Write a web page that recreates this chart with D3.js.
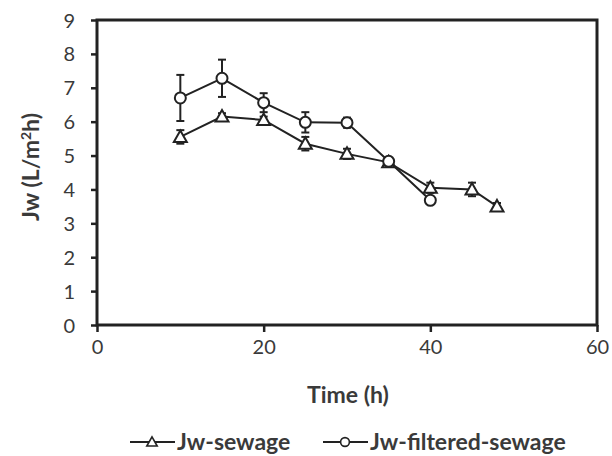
<!DOCTYPE html>
<html><head><meta charset="utf-8">
<script src="https://cdn.jsdelivr.net/npm/d3@7"></script>
<style>body{margin:0;background:#fff}svg{display:block}</style>
</head><body>
<svg id="c" width="612" height="456"></svg>
<script>
const timeSewage = [10, 15, 20, 25, 30, 35, 40, 45, 48];
const jwSewage = [5.55, 6.15, 6.05, 5.35, 5.05, 4.8, 4.05, 4.0, 3.5];
const errSewage = [0.2, 0.1, 0.1, 0.2, 0.15, 0.1, 0.15, 0.2, 0.1];
const timeFiltered = [10, 15, 20, 25, 30, 35, 40];
const jwFiltered = [6.7, 7.28, 6.56, 5.98, 5.97, 4.83, 3.68];
const errFiltered = [0.68, 0.55, 0.28, 0.3, 0.15, 0.1, 0.1];
const xTicks = [0, 20, 40, 60];
const yTicks = [0, 1, 2, 3, 4, 5, 6, 7, 8, 9];
const seriesNames = ["Jw-sewage", "Jw-filtered-sewage"];

const svg = d3.select("#c");
const x = d3.scaleLinear().domain([0, 60]).range([97, 597]);
const y = d3.scaleLinear().domain([0, 9]).range([325, 20]);
const ink = "#222";
const txt = "#3a3a3a";
const font = "Lato, 'Open Sans', sans-serif";

// frame
svg.append("rect").attr("x", x(0)).attr("y", y(9)).attr("width", x(60) - x(0)).attr("height", y(0) - y(9))
  .attr("fill", "none").attr("stroke", ink).attr("stroke-width", 3);

// y axis
const ya = svg.append("g").attr("transform", `translate(${x(0)},0)`)
  .call(d3.axisLeft(y).tickValues(yTicks).tickSize(6).tickPadding(16).tickFormat(d3.format("d")));
ya.select(".domain").remove();
ya.selectAll("line").attr("stroke", ink).attr("stroke-width", 2.5);
ya.selectAll("text").attr("font-family", font).attr("font-size", 20).attr("fill", txt).attr("dy", "0.35em");

// x axis
const xa = svg.append("g").attr("transform", `translate(0,${y(0)})`)
  .call(d3.axisBottom(x).tickValues(xTicks).tickSize(7).tickPadding(18).tickFormat(d3.format("d")));
xa.select(".domain").remove();
xa.selectAll("line").attr("stroke", ink).attr("stroke-width", 2.5);
xa.selectAll("text").attr("font-family", font).attr("font-size", 20).attr("fill", txt).attr("dy", "0.2em");

// titles
svg.append("text").attr("x", x(30) + 1).attr("y", 403).attr("text-anchor", "middle")
  .attr("font-family", font).attr("font-weight", "bold").attr("font-size", 23).attr("fill", txt).text("Time (h)");
const yt = svg.append("text").attr("transform", "translate(39,167) rotate(-90)").attr("text-anchor", "middle")
  .attr("font-family", font).attr("font-weight", "bold").attr("font-size", 23).attr("fill", txt);
yt.append("tspan").text("Jw (L/m");
yt.append("tspan").attr("font-size", 14).attr("dy", -8).text("2");
yt.append("tspan").attr("dy", 8).text("h)");

function series(times, vals, errs, marker) {
  const data = times.map((t, i) => ({t, v: vals[i], e: errs[i]}));
  const g = svg.append("g");
  data.forEach(d => {
    g.append("line").attr("x1", x(d.t)).attr("x2", x(d.t)).attr("y1", y(d.v - d.e)).attr("y2", y(d.v + d.e))
      .attr("stroke", ink).attr("stroke-width", 2);
    [d.v - d.e, d.v + d.e].forEach(v => g.append("line").attr("x1", x(d.t) - 4).attr("x2", x(d.t) + 4)
      .attr("y1", y(v)).attr("y2", y(v)).attr("stroke", ink).attr("stroke-width", 2));
  });
  g.append("path").datum(data).attr("fill", "none").attr("stroke", ink).attr("stroke-width", 2)
    .attr("d", d3.line().x(d => x(d.t)).y(d => y(d.v)));
  g.selectAll(".m").data(data).join("path").attr("class", "m")
    .attr("transform", d => `translate(${x(d.t)},${y(d.v)})`)
    .attr("d", marker).attr("fill", "#fff").attr("stroke", ink).attr("stroke-width", 2);
}
const triPath = "M0,-6.5L6.5,5L-6.5,5Z";
const circPath = d3.symbol(d3.symbolCircle, 95)();
series(timeSewage, jwSewage, errSewage, triPath);
series(timeFiltered, jwFiltered, errFiltered, circPath);

// legend
const leg = [{x: 130, name: seriesNames[0], m: triPath}, {x: 323, name: seriesNames[1], m: circPath}];
leg.forEach(l => {
  const g = svg.append("g").attr("transform", `translate(${l.x},442)`);
  g.append("line").attr("x1", 0).attr("x2", 45).attr("stroke", ink).attr("stroke-width", 2);
  g.append("path").attr("d", l.m).attr("transform", "translate(22,0) scale(0.8)").attr("fill", "#fff").attr("stroke", ink).attr("stroke-width", 2);
  g.append("text").attr("x", 47).attr("dy", "0.35em").attr("font-family", font).attr("font-weight", "bold")
    .attr("font-size", 23).attr("fill", txt).text(l.name);
});
</script>
</body></html>
